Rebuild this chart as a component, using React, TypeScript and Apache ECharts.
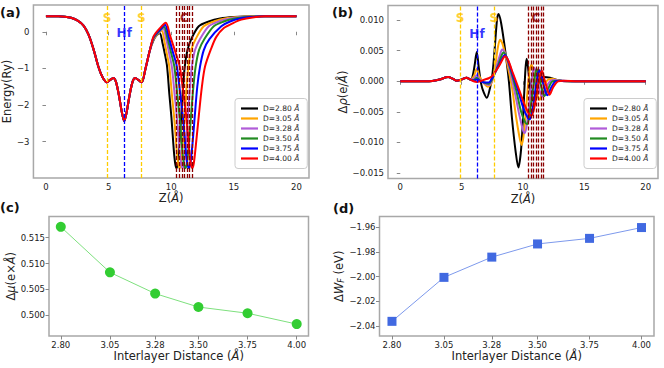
import React, { useEffect, useRef } from 'react';
import * as echarts from 'echarts';

const FONT = 'DejaVu Sans';

const seriesNames = ['D=2.80 Å', 'D=3.05 Å', 'D=3.28 Å', 'D=3.50 Å', 'D=3.75 Å', 'D=4.00 Å'];
const seriesColors = ['#000000', '#FFA500', '#B05CD8', '#228B22', '#0000FF', '#FF0000'];

const zTicks = [0, 5, 10, 15, 20];
const energyTicks = [0, -1, -2, -3];
const rhoTicks = [0.01, 0.005, 0, -0.005, -0.01, -0.015];
const distanceTicks = [2.8, 3.05, 3.28, 3.5, 3.75, 4.0];
const muTicks = [0.5, 0.505, 0.51, 0.515];
const wfTicks = [-2.04, -2.02, -2.0, -1.98, -1.96];

// panel (c) and (d) data
const distances = [2.8, 3.05, 3.28, 3.5, 3.75, 4.0];
const dipoleChange = [0.5171, 0.5083, 0.5042, 0.5016, 0.5004, 0.4983];
const workFunctionChange = [-2.036, -2.0006, -1.9843, -1.9737, -1.9692, -1.9605];

// atom positions (Å)
const sPositions = [4.88, 7.62];
const hfPositions = [6.25];
const cPositions = [10.44, 10.65, 10.86, 11.06, 11.27, 11.47, 11.67];

// atom annotation labels [text, z, yEnergy, yRho, color]
const atomLabels: [string, number, number, number, string][] = [
  ['S', 4.88, 0.37, 0.0103, '#FFC400'],
  ['Hf', 6.25, -0.03, 0.0078, '#0000FF'],
  ['S', 7.62, 0.37, 0.0103, '#FFC400'],
  ['C', 11.05, 0.37, 0.0103, '#8B0000'],
];

// panel (a): plane-averaged potential energy (Ry) vs Z (Å)
const energyCommon: [number, number][] = [
  [0, 0.42], [1, 0.42], [1.5, 0.41], [2, 0.38], [2.5, 0.31], [3, 0.17], [3.4, -0.08], [3.8, -0.48],
  [4.2, -0.97], [4.5, -1.23], [4.85, -1.38], [5.1, -1.32], [5.38, -1.26], [5.6, -1.38], [5.85, -1.78],
  [6.05, -2.18], [6.25, -2.44], [6.45, -2.18], [6.65, -1.78], [6.9, -1.38], [7.12, -1.26], [7.4, -1.32],
  [7.64, -1.38], [7.95, -1.0], [8.3, -0.5],
];
const energyTail280: [number, number][] = [
  [8.6, -0.22], [8.85, -0.09], [9.09, -0.04], [9.3, -0.3], [9.5, -0.62], [9.67, -0.95], [9.85, -1.7],
  [10.02, -2.35], [10.2, -3.2], [10.32, -3.6], [10.42, -3.72], [10.52, -3.6], [10.65, -3.05], [10.8, -2.3],
  [10.95, -1.5], [11.08, -0.95], [11.3, -0.5], [11.6, -0.2], [12.2, 0.15], [13.0, 0.28], [13.9, 0.36],
  [15, 0.4], [16.5, 0.42], [20, 0.42],
];
const energyTail305: [number, number][] = [
  [8.6, -0.2], [8.95, -0.05], [9.25, 0.03], [9.45, -0.25], [9.65, -0.6], [9.85, -0.95], [10.05, -1.7],
  [10.25, -2.4], [10.43, -3.2], [10.56, -3.6], [10.67, -3.72], [10.78, -3.6], [10.92, -3.05], [11.08, -2.3],
  [11.23, -1.5], [11.37, -0.95], [11.6, -0.5], [11.95, -0.2], [12.6, 0.15], [13.4, 0.28], [14.3, 0.36],
  [15.4, 0.4], [16.8, 0.42], [20, 0.42],
];
const energyTail328: [number, number][] = [
  [8.6, -0.18], [9.0, -0.02], [9.35, 0.09], [9.6, -0.2], [9.83, -0.58], [10.05, -0.95], [10.27, -1.7],
  [10.47, -2.4], [10.66, -3.2], [10.79, -3.6], [10.9, -3.72], [11.02, -3.6], [11.17, -3.05], [11.33, -2.3],
  [11.5, -1.5], [11.65, -0.95], [11.9, -0.5], [12.3, -0.2], [13.0, 0.15], [13.8, 0.28], [14.7, 0.36],
  [15.8, 0.4], [17, 0.42], [20, 0.42],
];
const energyTail350: [number, number][] = [
  [8.6, -0.16], [9.05, 0.02], [9.42, 0.14], [9.7, -0.17], [9.98, -0.56], [10.25, -0.95], [10.48, -1.7],
  [10.69, -2.4], [10.88, -3.2], [11.01, -3.6], [11.12, -3.72], [11.25, -3.6], [11.41, -3.05], [11.58, -2.3],
  [11.77, -1.5], [11.95, -0.95], [12.22, -0.5], [12.65, -0.2], [13.4, 0.15], [14.2, 0.28], [15.1, 0.36],
  [16.1, 0.4], [17.2, 0.42], [20, 0.42],
];
const energyTail375: [number, number][] = [
  [8.6, -0.14], [9.1, 0.06], [9.5, 0.19], [9.8, -0.14], [10.12, -0.54], [10.45, -0.95], [10.72, -1.7],
  [10.95, -2.4], [11.15, -3.2], [11.29, -3.6], [11.4, -3.72], [11.53, -3.6], [11.7, -3.05], [11.88, -2.3],
  [12.08, -1.5], [12.3, -0.95], [12.6, -0.5], [13.05, -0.2], [14.0, 0.15], [14.7, 0.28], [15.5, 0.36],
  [16.4, 0.4], [17.4, 0.42], [20, 0.42],
];
const energyTail400: [number, number][] = [
  [8.6, -0.12], [9.1, 0.1], [9.57, 0.245], [9.9, -0.1], [10.3, -0.52], [10.68, -0.95], [10.98, -1.7],
  [11.23, -2.4], [11.43, -3.2], [11.57, -3.6], [11.68, -3.72], [11.8, -3.6], [11.98, -3.05], [12.2, -2.3],
  [12.45, -1.5], [12.7, -0.95], [13.2, -0.45], [13.6, -0.14], [14.2, 0.1], [14.9, 0.23], [15.6, 0.33],
  [16.5, 0.39], [17.5, 0.42], [20, 0.42],
];

// panel (b): charge density difference (e/Å) vs Z (Å)
const rhoCommon: [number, number][] = [
  [0, 0], [2, 0], [2.6, 0.00005], [3.2, 0.0003], [3.9, 0.0007], [4.3, 0.0004], [4.6, 0.0001],
  [5.0, 0.0003], [5.4, 0.0006], [5.7, 0.0003],
];
const rhoTail280: [number, number][] = [
  [5.85, 0.0005], [6.05, 0.0025], [6.23, 0.0048], [6.4, 0.0022], [6.6, -0.0005], [6.8, -0.0018],
  [7.05, -0.0027], [7.3, -0.0012], [7.5, 0.001], [7.7, 0.0055], [7.88, 0.01], [8.0, 0.011], [8.22, 0.0095],
  [8.55, 0.005], [8.85, 0.0], [9.1, -0.006], [9.4, -0.0115], [9.62, -0.0141], [9.85, -0.011], [10.05, -0.004],
  [10.2, 0.002], [10.3, 0.0037], [10.45, 0.0015], [10.65, -0.002], [10.85, -0.0032], [11.05, -0.002],
  [11.3, 0.0], [11.6, 0.0007], [12.2, 0.0006], [12.8, 0.0002], [13.5, 0], [20, 0],
];
const rhoTail305: [number, number][] = [
  [5.98, 0.0008], [6.23, 0.002], [6.45, 0.0008], [6.8, -0.0003], [7.15, -0.0009], [7.45, -0.0002],
  [7.7, 0.002], [7.95, 0.0055], [8.13, 0.0068], [8.35, 0.006], [8.7, 0.003], [9.1, -0.001], [9.45, -0.006],
  [9.75, -0.0095], [9.9, -0.0104], [10.1, -0.008], [10.35, -0.002], [10.55, 0.002], [10.7, 0.0027],
  [10.9, 0.001], [11.15, -0.002], [11.35, -0.003], [11.6, -0.0015], [11.9, 0.0], [12.3, 0.0004],
  [13, 0.0001], [14, 0], [20, 0],
];
const rhoTail328: [number, number][] = [
  [5.98, 0.0004], [6.23, 0.001], [6.45, 0.0004], [6.85, -0.0003], [7.2, -0.0006], [7.5, 0.0002],
  [7.85, 0.0025], [8.15, 0.0045], [8.3, 0.0052], [8.55, 0.0045], [8.9, 0.002], [9.3, -0.0015],
  [9.7, -0.0055], [10.0, -0.008], [10.15, -0.0085], [10.35, -0.0065], [10.6, -0.002], [10.8, 0.0015],
  [10.92, 0.0022], [11.1, 0.001], [11.35, -0.0015], [11.55, -0.0025], [11.85, -0.0012], [12.2, 0.0],
  [12.6, 0.0002], [13.5, 0], [20, 0],
];
const rhoTail350: [number, number][] = [
  [5.98, 0.0002], [6.23, 0.0006], [6.45, 0.0002], [6.85, -0.0002], [7.2, -0.0004], [7.5, 0.0004],
  [7.95, 0.0025], [8.25, 0.0042], [8.4, 0.0047], [8.65, 0.004], [9.0, 0.0018], [9.45, -0.0015],
  [9.85, -0.005], [10.2, -0.0068], [10.35, -0.007], [10.55, -0.0052], [10.8, -0.0015], [11.0, 0.0012],
  [11.12, 0.002], [11.3, 0.0008], [11.55, -0.0014], [11.75, -0.0024], [12.05, -0.0012], [12.4, 0.0],
  [12.9, 0.0001], [14, 0], [20, 0],
];
const rhoTail375: [number, number][] = [
  [5.98, 0.0001], [6.23, 0.0003], [6.45, 0.0001], [6.85, -0.0002], [7.2, -0.0002], [7.5, 0.0006],
  [8.0, 0.0025], [8.35, 0.0039], [8.5, 0.0043], [8.75, 0.0036], [9.1, 0.0015], [9.6, -0.0015],
  [10.05, -0.0045], [10.4, -0.006], [10.55, -0.0062], [10.78, -0.0046], [11.02, -0.0012], [11.22, 0.0012],
  [11.35, 0.0018], [11.52, 0.0006], [11.78, -0.0014], [11.98, -0.0023], [12.28, -0.0011], [12.65, 0.0],
  [13.1, 0.0001], [14.2, 0], [20, 0],
];
const rhoTail400: [number, number][] = [
  [5.98, 0.0], [6.23, -0.0001], [6.5, 0.0], [6.9, 0.0003], [7.2, 0.0005], [7.5, 0.0009], [8.05, 0.0025],
  [8.4, 0.0038], [8.55, 0.0041], [8.8, 0.0034], [9.2, 0.0012], [9.7, -0.0015], [10.2, -0.0042],
  [10.55, -0.0055], [10.7, -0.0056], [10.95, -0.004], [11.2, -0.001], [11.42, 0.0012], [11.55, 0.0017],
  [11.72, 0.0005], [11.98, -0.0013], [12.15, -0.0022], [12.45, -0.001], [12.85, 0.0], [13.3, 0.0001],
  [14.5, 0], [20, 0],
];

const energyTails = [energyTail280, energyTail305, energyTail328, energyTail350, energyTail375, energyTail400];
const rhoTails = [rhoTail280, rhoTail305, rhoTail328, rhoTail350, rhoTail375, rhoTail400];

const minus = (s: string) => s.replace('-', '\u2212');
const TICK_COLOR = '#222';
const FRAME = '#a8a8a8';

const nameRich = {
  r: { fontFamily: FONT, fontSize: 11.5, color: '#222' },
  i: { fontFamily: FONT, fontSize: 11.5, color: '#222', fontStyle: 'italic' },
  s: { fontFamily: FONT, fontSize: 8, color: '#222', fontStyle: 'italic', verticalAlign: 'bottom', padding: [6, 0, 0, 0] },
};

function makeAxis(
  gridIndex: number,
  min: number,
  max: number,
  ticks: number[],
  fmt: (v: number) => string,
  name: string,
  nameGap: number,
) {
  return {
    type: 'value',
    gridIndex,
    min,
    max,
    axisLine: { show: false },
    splitLine: { show: false },
    axisTick: { show: true, length: 3.5, lineStyle: { color: '#888', width: 1 }, customValues: ticks },
    axisLabel: {
      customValues: ticks,
      formatter: (v: number) => fmt(v),
      color: TICK_COLOR,
      fontSize: 8.5,
      fontFamily: FONT,
      margin: 4,
    },
    name,
    nameLocation: 'middle',
    nameGap,
    nameTextStyle: { fontFamily: FONT, fontSize: 11.5, color: '#222', rich: nameRich },
  };
}

function buildOption() {
  const grids = [
    { left: 33, top: 5, width: 276, height: 173 },
    { left: 388, top: 5.5, width: 270, height: 173 },
    { left: 49, top: 216.5, width: 259.5, height: 119.5 },
    { left: 379.5, top: 216.5, width: 274.5, height: 119.5 },
  ].map((g) => ({ ...g, show: true, borderColor: FRAME, borderWidth: 1.5, backgroundColor: 'transparent' }));

  const xAxis = [
    makeAxis(0, -1, 21, zTicks, (v) => String(v), '{r|Z(}{i|Å}{r|)}', 14),
    makeAxis(1, -1, 21, zTicks, (v) => String(v), '{r|Z(}{i|Å}{r|)}', 14),
    makeAxis(2, 2.74, 4.06, distanceTicks, (v) => v.toFixed(2), '{r|Interlayer Distance (}{i|Å}{r|)}', 13),
    makeAxis(3, 2.74, 4.06, distanceTicks, (v) => v.toFixed(2), '{r|Interlayer Distance (}{i|Å}{r|)}', 13),
  ];
  const yAxis = [
    makeAxis(0, -3.99, 0.73, energyTicks, (v) => minus(String(v)), '{r|Energy(Ry)}', 15),
    makeAxis(1, -0.0159, 0.0124, rhoTicks, (v) => minus(v.toFixed(3)), '{r|Δ}{i|ρ}{r|(e/}{i|Å}{r|)}', 33),
    makeAxis(2, 0.496, 0.5191, muTicks, (v) => v.toFixed(3), '{r|Δ}{i|μ}{r|(e×}{i|Å}{r|)}', 28),
    makeAxis(3, -2.0478, -1.9516, wfTicks, (v) => minus(v.toFixed(2)), '{r|Δ}{i|W}{s|F}{r| (eV)}', 24),
  ];

  const series: any[] = [];
  seriesNames.forEach((name, k) => {
    series.push({
      type: 'line',
      name,
      xAxisIndex: 0,
      yAxisIndex: 0,
      data: [...energyCommon, ...energyTails[k]],
      symbol: 'none',
      smooth: 0.3,
      lineStyle: { color: seriesColors[k], width: 2 },
      itemStyle: { color: seriesColors[k] },
      z: 2 + k * 0.01,
    });
  });
  seriesNames.forEach((name, k) => {
    series.push({
      type: 'line',
      name,
      xAxisIndex: 1,
      yAxisIndex: 1,
      data: [...rhoCommon, ...rhoTails[k]],
      symbol: 'none',
      smooth: 0.3,
      lineStyle: { color: seriesColors[k], width: 2 },
      itemStyle: { color: seriesColors[k] },
      z: 2 + k * 0.01,
    });
  });

  const lineGroups: [number[], string, number][] = [
    [sPositions, '#FFCC00', 1.3],
    [hfPositions, '#0000FF', 1.3],
    [cPositions, '#8B0000', 1.3],
  ];
  [0, 1].forEach((ai) => {
    lineGroups.forEach(([positions, color, width]) => {
      series.push({
        type: 'line',
        xAxisIndex: ai,
        yAxisIndex: ai,
        data: [],
        silent: true,
        z: 4,
        color,
        markLine: {
          silent: true,
          symbol: ['none', 'none'],
          label: { show: false },
          lineStyle: { color, type: [4, 2], width, opacity: 1 },
          emphasis: { disabled: true },
          data: positions.map((x) => ({ xAxis: x })),
          z: 4,
        },
      });
    });
    series.push({
      type: 'scatter',
      xAxisIndex: ai,
      yAxisIndex: ai,
      silent: true,
      symbolSize: 1,
      itemStyle: { color: 'transparent' },
      z: 6,
      data: atomLabels.map(([t, x, ye, yr, c]) => ({
        value: [x, ai === 0 ? ye : yr],
        label: {
          show: true,
          position: 'inside',
          formatter: t,
          color: c,
          fontFamily: FONT,
          fontWeight: 'bold',
          fontSize: 12,
        },
      })),
    });
  });

  series.push({
    type: 'line',
    xAxisIndex: 2,
    yAxisIndex: 2,
    data: distances.map((d, i) => [d, dipoleChange[i]]),
    symbol: 'circle',
    symbolSize: 10,
    itemStyle: { color: '#32CD32' },
    lineStyle: { color: '#7ee07e', width: 1 },
  });
  series.push({
    type: 'line',
    xAxisIndex: 3,
    yAxisIndex: 3,
    data: distances.map((d, i) => [d, workFunctionChange[i]]),
    symbol: 'rect',
    symbolSize: 9,
    itemStyle: { color: '#4169E1' },
    lineStyle: { color: '#7d99ec', width: 1 },
  });

  const legendBase = {
    orient: 'vertical',
    top: 98.5,
    data: seriesNames.map((n) => ({ name: n, icon: 'path://M0 0H100V13H0Z' })),
    itemWidth: 17,
    itemHeight: 9,
    itemGap: 2,
    padding: [6, 8, 6, 6],
    backgroundColor: '#fff',
    borderColor: '#cccccc',
    borderWidth: 1,
    borderRadius: 3,
    selectedMode: false,
    formatter: (name: string) => `{n|${name.replace(' Å', ' ')}}{i|Å}`,
    textStyle: {
      fontFamily: FONT,
      fontSize: 7.5,
      color: '#222',
      rich: {
        n: { fontFamily: FONT, fontSize: 7.5, color: '#222' },
        i: { fontFamily: FONT, fontSize: 7.5, color: '#222', fontStyle: 'italic' },
      },
    },
  };

  const panelLabel = (text: string, x: number, y: number) => ({
    type: 'text',
    x,
    y,
    style: { text, fontFamily: FONT, fontWeight: 'bold', fontSize: 13, fill: '#111', textVerticalAlign: 'middle' },
  });

  return {
    animation: false,
    backgroundColor: '#ffffff',
    grid: grids,
    xAxis,
    yAxis,
    series,
    legend: [
      { ...legendBase, left: 235 },
      { ...legendBase, left: 584 },
    ],
    graphic: [
      panelLabel('(a)', 0, 12),
      panelLabel('(b)', 332, 12),
      panelLabel('(c)', 0, 207),
      panelLabel('(d)', 333, 208),
    ],
  };
}

export default function App() {
  const ref = useRef<HTMLDivElement>(null);
  useEffect(() => {
    if (!ref.current) return;
    const chart = echarts.init(ref.current, null, { renderer: 'svg' });
    chart.setOption(buildOption() as any);
    return () => chart.dispose();
  }, []);
  return (
    <div
      ref={ref}
      style={{ position: 'fixed', left: 0, top: 0, width: 664, height: 368, background: '#fff' }}
    />
  );
}
